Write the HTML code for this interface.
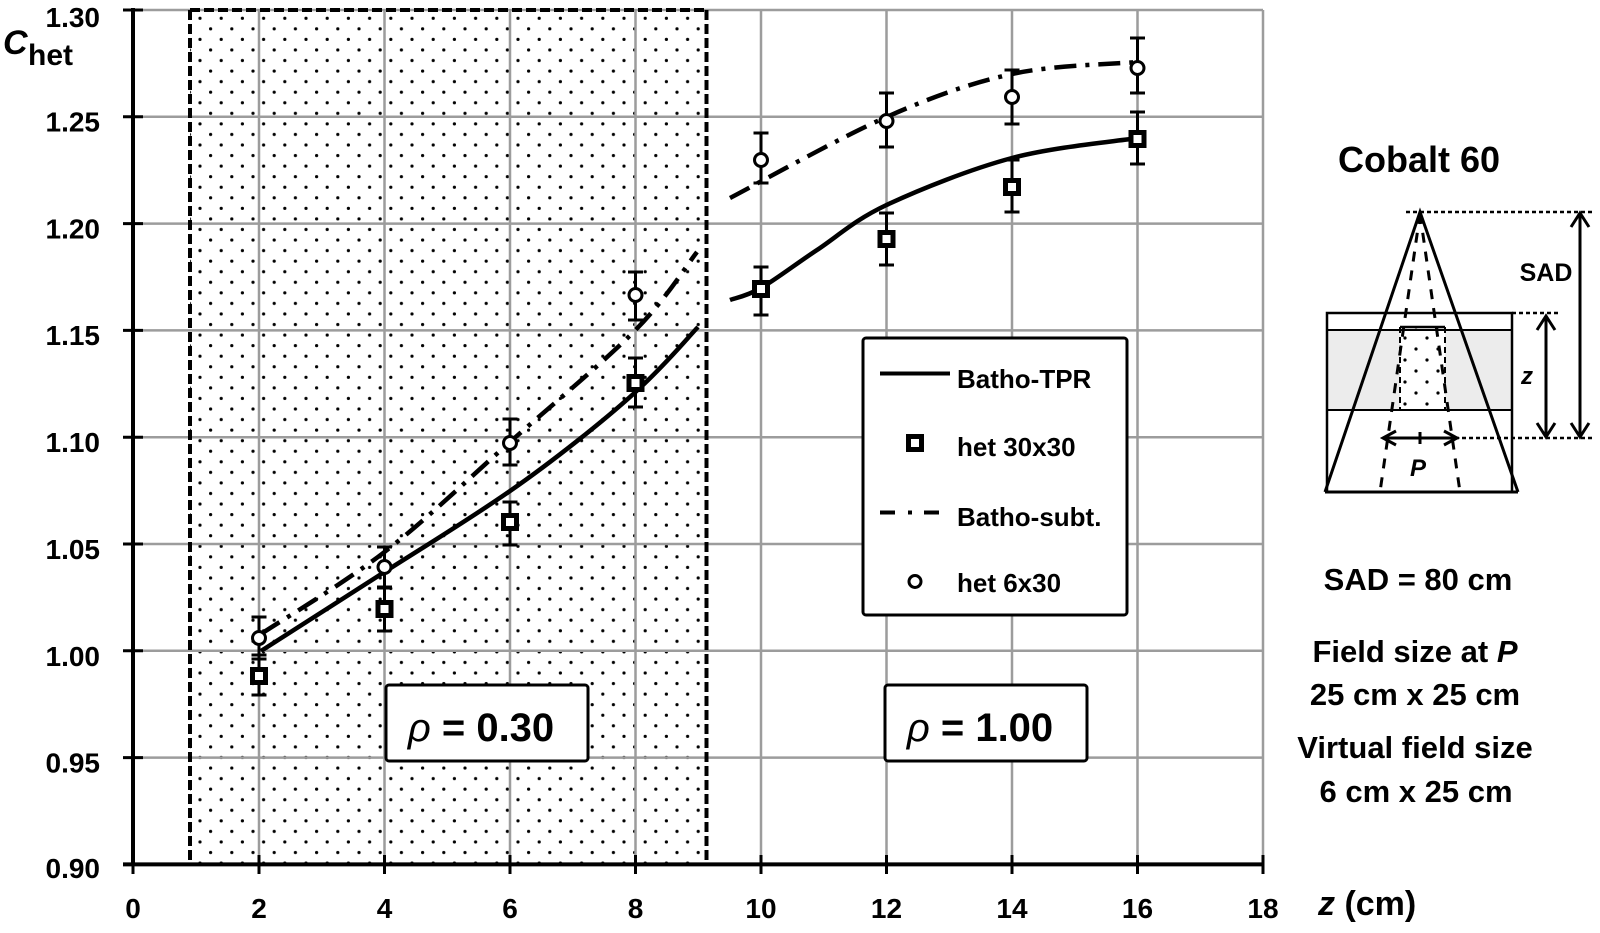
<!DOCTYPE html>
<html>
<head>
<meta charset="utf-8">
<style>
  html,body{margin:0;padding:0;background:#fff;}
  svg{display:block;}
  text{font-family:"Liberation Sans",Arial,sans-serif;font-weight:bold;fill:#000;}
</style>
</head>
<body>
<svg width="1600" height="933" viewBox="0 0 1600 933" xmlns="http://www.w3.org/2000/svg">
  <defs>
    <pattern id="dots" patternUnits="userSpaceOnUse" x="194.7" y="13.0" width="21.2" height="21.12">
      <circle cx="5.3" cy="5.3" r="1.6" fill="#000"/>
      <circle cx="15.9" cy="15.86" r="1.6" fill="#000"/>
    </pattern>
    <pattern id="dots2" patternUnits="userSpaceOnUse" x="1399" y="332" width="22" height="22">
      <circle cx="6" cy="6" r="1.6" fill="#000"/>
      <circle cx="17" cy="17" r="1.6" fill="#000"/>
    </pattern>
  </defs>

  <rect x="0" y="0" width="1600" height="933" fill="#fff"/>

  <!-- dotted region -->
  <rect x="190" y="10" width="516.5" height="854" fill="url(#dots)"/>

  <!-- grid lines -->
  <g stroke="#9c9c9c" stroke-width="2.5">
    <line x1="133" y1="10" x2="1263" y2="10"/>
    <line x1="133" y1="116.8" x2="1263" y2="116.8"/>
    <line x1="133" y1="223.6" x2="1263" y2="223.6"/>
    <line x1="133" y1="330.4" x2="1263" y2="330.4"/>
    <line x1="133" y1="437.2" x2="1263" y2="437.2"/>
    <line x1="133" y1="544" x2="1263" y2="544"/>
    <line x1="133" y1="650.8" x2="1263" y2="650.8"/>
    <line x1="133" y1="757.6" x2="1263" y2="757.6"/>
    <line x1="259" y1="10" x2="259" y2="864"/>
    <line x1="384.5" y1="10" x2="384.5" y2="864"/>
    <line x1="510" y1="10" x2="510" y2="864"/>
    <line x1="635.5" y1="10" x2="635.5" y2="864"/>
    <line x1="761" y1="10" x2="761" y2="864"/>
    <line x1="886.5" y1="10" x2="886.5" y2="864"/>
    <line x1="1012" y1="10" x2="1012" y2="864"/>
    <line x1="1137.5" y1="10" x2="1137.5" y2="864"/>
    <line x1="1263" y1="10" x2="1263" y2="864"/>
  </g>

  <!-- dashed region border -->
  <g stroke="#000" stroke-width="4" stroke-dasharray="10 4" fill="none">
    <line x1="190" y1="10" x2="190" y2="864"/>
    <line x1="706.5" y1="10" x2="706.5" y2="864"/>
    <line x1="190" y1="10" x2="706.5" y2="10"/>
  </g>

  <!-- axes -->
  <g stroke="#000" fill="none">
    <line x1="133" y1="8" x2="133" y2="866" stroke-width="4"/>
    <line x1="123" y1="864.4" x2="1264" y2="864.4" stroke-width="4"/>
    <g stroke-width="3">
      <line x1="123" y1="10" x2="143" y2="10"/>
      <line x1="123" y1="116.8" x2="143" y2="116.8"/>
      <line x1="123" y1="223.6" x2="143" y2="223.6"/>
      <line x1="123" y1="330.4" x2="143" y2="330.4"/>
      <line x1="123" y1="437.2" x2="143" y2="437.2"/>
      <line x1="123" y1="544" x2="143" y2="544"/>
      <line x1="123" y1="650.8" x2="143" y2="650.8"/>
      <line x1="123" y1="757.6" x2="143" y2="757.6"/>
      <line x1="133" y1="855" x2="133" y2="874"/>
      <line x1="259" y1="855" x2="259" y2="874"/>
      <line x1="384.5" y1="855" x2="384.5" y2="874"/>
      <line x1="510" y1="855" x2="510" y2="874"/>
      <line x1="635.5" y1="855" x2="635.5" y2="874"/>
      <line x1="761" y1="855" x2="761" y2="874"/>
      <line x1="886.5" y1="855" x2="886.5" y2="874"/>
      <line x1="1012" y1="855" x2="1012" y2="874"/>
      <line x1="1137.5" y1="855" x2="1137.5" y2="874"/>
      <line x1="1263" y1="855" x2="1263" y2="874"/>
    </g>
  </g>

  <!-- curves -->
  <g fill="none" stroke="#000" stroke-width="4.5">
    <path d="M261,651 C281.6,637.8 343,598.5 384.5,572 C426,545.5 468.2,520 510,491 C551.8,462 604.2,420.5 635.5,392 C666.8,363.5 687.6,337.8 698,327"/>
    <path d="M730,300 C735.2,298 746.5,296.3 761,288 C775.5,279.7 796.1,263.8 817,250 C837.9,236.2 854,220.3 886.5,205 C919,189.7 970.2,169.2 1012,158 C1053.8,146.8 1116.6,141.3 1137.5,138"/>
    <path stroke-dasharray="22 9 4 9" d="M261,634 C281.6,620.3 343,584 384.5,552 C426,520 468.2,479 510,442 C551.8,405 604.3,361.7 635.5,330 C666.7,298.3 686.75,265 697,252"/>
    <path stroke-dasharray="22 9 4 9" d="M730,198 C756.1,184.5 839.5,137.7 886.5,117 C933.5,96.3 970.2,83.2 1012,74 C1053.8,64.8 1116.6,64 1137.5,62"/>
  </g>

  <!-- error bars -->
  <g stroke="#000" stroke-width="3" fill="none">
    <path d="M259,617V659M251.5,617H266.5M251.5,659H266.5"/>
    <path d="M384.5,547V587M377,547H392M377,587H392"/>
    <path d="M510,419V465M502.5,419H517.5M502.5,465H517.5"/>
    <path d="M635.5,272V320M628,272H643M628,320H643"/>
    <path d="M761,133V183M753.5,133H768.5M753.5,183H768.5"/>
    <path d="M886.5,93V147M879,93H894M879,147H894"/>
    <path d="M1012,70V124M1004.5,70H1019.5M1004.5,124H1019.5"/>
    <path d="M1137.5,38V93M1130,38H1145M1130,93H1145"/>

    <path d="M259,655V695M251.5,655H266.5M251.5,695H266.5"/>
    <path d="M384.5,588V631M377,588H392M377,631H392"/>
    <path d="M510,502V545M502.5,502H517.5M502.5,545H517.5"/>
    <path d="M635.5,358V407M628,358H643M628,407H643"/>
    <path d="M761,267V315M753.5,267H768.5M753.5,315H768.5"/>
    <path d="M886.5,213V265M879,213H894M879,265H894"/>
    <path d="M1012,160V212M1004.5,160H1019.5M1004.5,212H1019.5"/>
    <path d="M1137.5,112V164M1130,112H1145M1130,164H1145"/>
  </g>

  <!-- markers: circles -->
  <g fill="#fff" stroke="#000" stroke-width="3">
    <circle cx="259" cy="638" r="6.5"/>
    <circle cx="384.5" cy="567" r="6.5"/>
    <circle cx="510" cy="443" r="6.5"/>
    <circle cx="635.5" cy="295" r="6.5"/>
    <circle cx="761" cy="160" r="6.5"/>
    <circle cx="886.5" cy="121" r="6.5"/>
    <circle cx="1012" cy="97" r="6.5"/>
    <circle cx="1137.5" cy="68" r="6.5"/>
  </g>
  <!-- markers: squares -->
  <g fill="#fff" stroke="#000" stroke-width="5">
    <rect x="252.5" y="669.5" width="13" height="13"/>
    <rect x="378" y="602.5" width="13" height="13"/>
    <rect x="503.5" y="515.5" width="13" height="13"/>
    <rect x="629" y="376.5" width="13" height="13"/>
    <rect x="754.5" y="282.5" width="13" height="13"/>
    <rect x="880" y="232.5" width="13" height="13"/>
    <rect x="1005.5" y="180.5" width="13" height="13"/>
    <rect x="1131" y="132.5" width="13" height="13"/>
  </g>

  <!-- legend -->
  <rect x="863" y="338" width="264" height="277" rx="3" fill="#fff" stroke="#000" stroke-width="3"/>
  <line x1="880" y1="373.5" x2="950" y2="373.5" stroke="#000" stroke-width="4"/>
  <rect x="908.5" y="436.5" width="13" height="13" fill="#fff" stroke="#000" stroke-width="5"/>
  <line x1="880" y1="512.5" x2="939" y2="512.5" stroke="#000" stroke-width="4" stroke-dasharray="15 13 4 12 15"/>
  <circle cx="915" cy="581.5" r="6" fill="#fff" stroke="#000" stroke-width="3"/>
  <g font-size="26">
    <text x="957" y="388">Batho-TPR</text>
    <text x="957" y="456">het 30x30</text>
    <text x="957" y="526">Batho-subt.</text>
    <text x="957" y="592">het 6x30</text>
  </g>

  <!-- rho boxes -->
  <rect x="386" y="685" width="202" height="76" rx="3" fill="#fff" stroke="#000" stroke-width="3"/>
  <rect x="885" y="685" width="202" height="76" rx="3" fill="#fff" stroke="#000" stroke-width="3"/>
  <text x="481" y="741" font-size="40" text-anchor="middle"><tspan font-style="italic" font-weight="normal">ρ</tspan> = 0.30</text>
  <text x="980" y="741" font-size="40" text-anchor="middle"><tspan font-style="italic" font-weight="normal">ρ</tspan> = 1.00</text>

  <!-- axis labels -->
  <g font-size="28" text-anchor="end">
    <text x="100" y="27">1.30</text>
    <text x="100" y="131.5">1.25</text>
    <text x="100" y="238.5">1.20</text>
    <text x="100" y="345">1.15</text>
    <text x="100" y="452">1.10</text>
    <text x="100" y="559">1.05</text>
    <text x="100" y="666">1.00</text>
    <text x="100" y="772.5">0.95</text>
    <text x="100" y="878">0.90</text>
  </g>
  <g font-size="28" text-anchor="middle">
    <text x="133" y="918">0</text>
    <text x="259" y="918">2</text>
    <text x="384.5" y="918">4</text>
    <text x="510" y="918">6</text>
    <text x="635.5" y="918">8</text>
    <text x="761" y="918">10</text>
    <text x="886.5" y="918">12</text>
    <text x="1012" y="918">14</text>
    <text x="1137.5" y="918">16</text>
    <text x="1263" y="918">18</text>
  </g>
  <text x="3" y="54" font-size="34" font-style="italic">C</text>
  <text x="28" y="65" font-size="30">het</text>
  <text x="1318" y="915" font-size="34"><tspan font-style="italic">z</tspan> (cm)</text>

  <!-- right side schematic -->
  <text x="1419" y="172" font-size="36" text-anchor="middle">Cobalt 60</text>

  <rect x="1327" y="330" width="185" height="80" fill="#ececec"/>
  <rect x="1400" y="327" width="45" height="83" fill="#fff"/>
  <rect x="1400" y="327" width="45" height="83" fill="url(#dots2)"/>
  <g stroke="#000" fill="none">
    <rect x="1327" y="313" width="185" height="179" stroke-width="2.5"/>
    <line x1="1327" y1="330" x2="1512" y2="330" stroke-width="2"/>
    <line x1="1327" y1="410" x2="1512" y2="410" stroke-width="2"/>
    <line x1="1400" y1="327" x2="1445" y2="327" stroke-width="2.5"/>
    <line x1="1400" y1="327" x2="1400" y2="410" stroke-width="2" stroke-dasharray="6 4"/>
    <line x1="1445" y1="327" x2="1445" y2="410" stroke-width="2" stroke-dasharray="6 4"/>
    <polyline points="1325,492 1420,212 1518,492" stroke-width="3"/>
    <line x1="1325" y1="492" x2="1518" y2="492" stroke-width="3"/>
    <line x1="1420" y1="214" x2="1380" y2="492" stroke-width="3" stroke-dasharray="10 9"/>
    <line x1="1420" y1="214" x2="1460" y2="492" stroke-width="3" stroke-dasharray="10 9"/>
    <g stroke-width="2.5" stroke-dasharray="4 3">
      <line x1="1406" y1="212" x2="1593" y2="212"/>
      <line x1="1512" y1="313" x2="1560" y2="313"/>
      <line x1="1455" y1="438" x2="1593" y2="438"/>
    </g>
    <g stroke-width="3">
      <line x1="1546" y1="316" x2="1546" y2="437"/>
      <polyline points="1537,330 1546,316 1555,330"/>
      <polyline points="1537,423 1546,437 1555,423"/>
      <line x1="1580" y1="213" x2="1580" y2="437"/>
      <polyline points="1571,227 1580,213 1589,227"/>
      <polyline points="1571,423 1580,437 1589,423"/>
      <line x1="1383" y1="438" x2="1457" y2="438"/>
      <polyline points="1396,431 1383,438 1396,445"/>
      <polyline points="1444,431 1457,438 1444,445"/>
      <line x1="1420" y1="432" x2="1420" y2="444"/>
    </g>
  </g>
  <text x="1527" y="384" font-size="24" font-style="italic" text-anchor="middle">z</text>
  <text x="1546" y="281" font-size="25" text-anchor="middle">SAD</text>
  <text x="1418" y="476" font-size="24" font-style="italic" text-anchor="middle">P</text>

  <g font-size="31" text-anchor="middle">
    <text x="1418" y="590">SAD = 80 cm</text>
    <text x="1415" y="662">Field size at <tspan font-style="italic">P</tspan></text>
    <text x="1415" y="705">25 cm x 25 cm</text>
    <text x="1415" y="758">Virtual field size</text>
    <text x="1416" y="802">6 cm x 25 cm</text>
  </g>
</svg>
</body>
</html>
